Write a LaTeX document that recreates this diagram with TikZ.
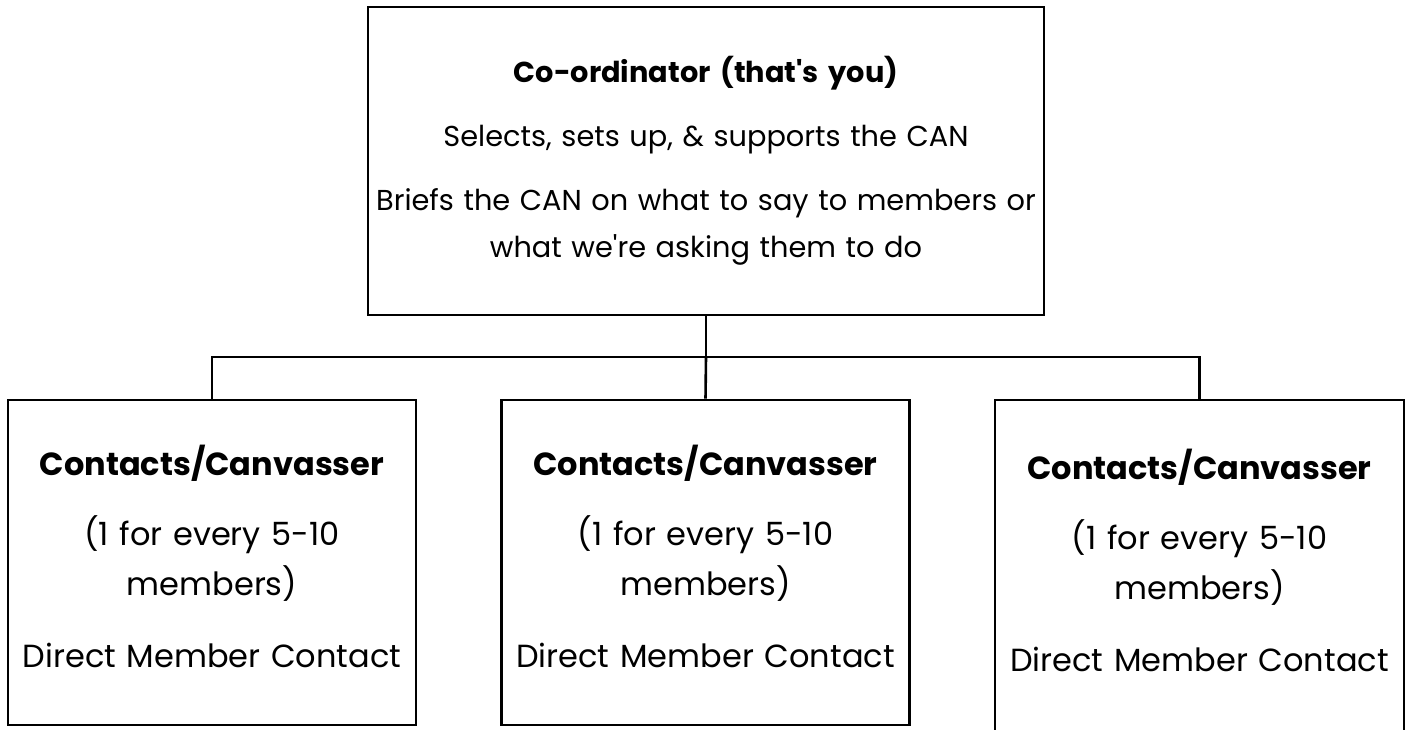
\documentclass[tikz,border=0pt]{standalone}
\usepackage{fontspec}
\setmainfont{Poppins}
\begin{document}
\begin{tikzpicture}[x=1pt,y=-1pt,line width=2.6pt,
	box/.style={draw,align=center,inner sep=0pt,minimum width=408pt,minimum height=325pt,text width=390pt,text depth=205pt,font=\fontsize{32}{50}\selectfont},
	headbox/.style={box,minimum width=676pt,minimum height=308pt,text width=670pt,text depth=,font=\fontsize{28.8}{47}\selectfont}]
	\clip (0,0) rectangle (1408,729);
	\node[headbox] (coord) at (706,161) {\textbf{Co-ordinator (that\textquotesingle s you)}\\[17pt]
		Selects, sets up, \& supports the CAN\\[17pt]
		Briefs the CAN on what to say to members or\\ what we\textquotesingle re asking them to do};
	\node[box] (canl) at (212,562.5) {\textbf{Contacts/Canvasser}\\[20pt] (1 for every 5-10\\ members)\\[22pt] Direct Member Contact};
	\node[box] (canm) at (705.5,562.5) {\textbf{Contacts/Canvasser}\\[20pt] (1 for every 5-10\\ members)\\[22pt] Direct Member Contact};
	\node[box,minimum width=409pt,minimum height=333pt] (canr) at (1199.5,566.5) {\textbf{Contacts/Canvasser}\\[20pt] (1 for every 5-10\\ members)\\[22pt] Direct Member Contact};
	\coordinate (bus) at (706,357);
	\draw (coord.south) -- (bus);
	\draw (canl.north) |- (bus) -| (canr.north);
	\draw (bus) -- (canm.north);
\end{tikzpicture}
\end{document}
